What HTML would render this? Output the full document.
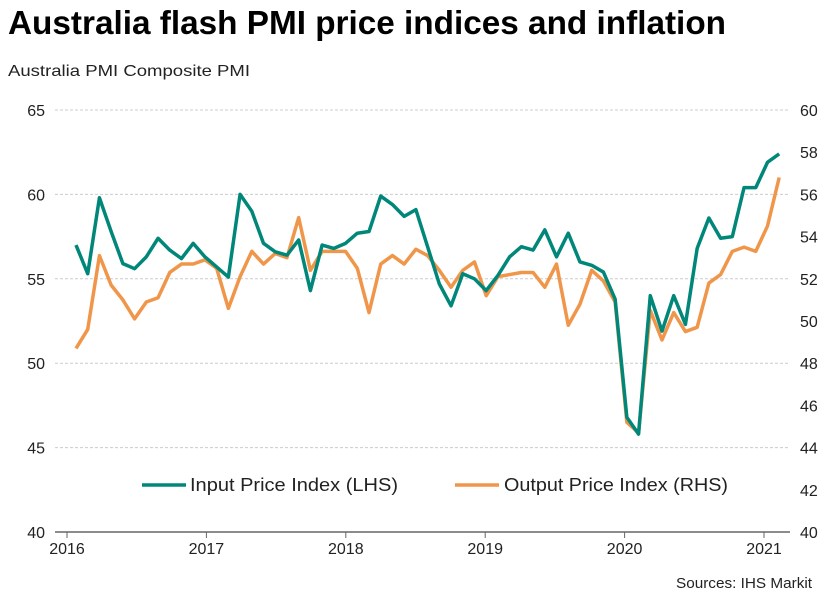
<!DOCTYPE html>
<html><head><meta charset="utf-8"><style>
body{margin:0;background:#fff;font-family:"Liberation Sans",Arial,sans-serif}
svg text{font-family:"Liberation Sans",Arial,sans-serif}
</style></head><body>
<svg id="chart" width="831" height="599" xmlns="http://www.w3.org/2000/svg">
<text x="8" y="34" font-size="33" font-weight="bold" fill="#000" textLength="718" lengthAdjust="spacingAndGlyphs">Australia flash PMI price indices and inflation</text>
<text x="8" y="76" font-size="16" fill="#222" textLength="242" lengthAdjust="spacingAndGlyphs">Australia PMI Composite PMI</text>
<text x="812" y="588" font-size="15" fill="#222" text-anchor="end" textLength="136" lengthAdjust="spacingAndGlyphs">Sources: IHS Markit</text>
<g id="grid"></g><g id="axes"></g><g id="series"></g>
<g>
<line x1="142" y1="485" x2="186" y2="485" stroke="#00877a" stroke-width="3.5"/>
<text x="190" y="491" font-size="18" fill="#222" textLength="208" lengthAdjust="spacingAndGlyphs">Input Price Index (LHS)</text>
<line x1="455" y1="485" x2="499" y2="485" stroke="#f0964a" stroke-width="3.5"/>
<text x="504" y="491" font-size="18" fill="#222" textLength="224" lengthAdjust="spacingAndGlyphs">Output Price Index (RHS)</text>
</g>
</svg>
<script>
const leftTicks=[40,45,50,55,60,65];
const rightTicks=[40,42,44,46,48,50,52,54,56,58,60];
const yearLabels=["2016","2017","2018","2019","2020","2021"];
const inputPrice=[57.0,55.3,59.8,57.8,55.9,55.6,56.3,57.4,56.7,56.2,57.1,
56.3,55.7,55.1,60.0,59.0,57.1,56.6,56.4,57.3,54.3,57.0,56.8,
57.1,57.7,57.8,59.9,59.4,58.7,59.1,56.9,54.7,53.4,55.3,55.0,
54.3,55.2,56.3,56.9,56.7,57.9,56.3,57.7,56.0,55.8,55.4,53.8,
46.8,45.8,54.0,51.9,54.0,52.3,56.8,58.6,57.4,57.5,60.4,60.4,
61.9,62.4];
const outputPrice=[48.7,49.6,53.1,51.7,51.0,50.1,50.9,51.1,52.3,52.7,52.7,
52.9,52.5,50.6,52.1,53.3,52.7,53.2,53.0,54.9,52.4,53.3,53.3,
53.3,52.5,50.4,52.7,53.1,52.7,53.4,53.1,52.4,51.6,52.4,52.8,
51.2,52.1,52.2,52.3,52.3,51.6,52.7,49.8,50.8,52.4,51.9,50.9,
45.2,44.7,50.5,49.1,50.4,49.5,49.7,51.8,52.2,53.3,53.5,53.3,
54.5,56.8];
const NS="http://www.w3.org/2000/svg";
const X0=67,YR=139.4,TOP=110,BOT=532;
const xm=i=>76+i*11.72;
const yl=v=>BOT-(v-40)/25*(BOT-TOP);
const yr=v=>BOT-(v-40)/20*(BOT-TOP);
function mk(t,a,p){const e=document.createElementNS(NS,t);for(const k in a)e.setAttribute(k,a[k]);p.appendChild(e);return e;}
const grid=document.getElementById('grid'),axes=document.getElementById('axes'),ser=document.getElementById('series');
leftTicks.forEach(v=>{
 const l=mk('line',{x1:55,x2:790,y1:yl(v),y2:yl(v),stroke:v===40?'#666':'#ccc','stroke-dasharray':v===40?'':'3,2','stroke-width':v===40?1.5:1},grid);
 
 
 const t=mk('text',{x:45,y:yl(v)+6,'font-size':16,fill:'#222','text-anchor':'end'},axes);t.textContent=v;
 
 
});
rightTicks.forEach(v=>{
 const t=mk('text',{x:800,y:yr(v)+6,'font-size':16,fill:'#222'},axes);t.textContent=v;
 
 
});
yearLabels.forEach((s,i)=>{
 const x=X0+i*YR;
 mk('line',{x1:x,x2:x,y1:BOT,y2:BOT+6,stroke:'#666'},axes);
 const t=mk('text',{x:x,y:BOT+22,'font-size':16,fill:'#222','text-anchor':'middle'},axes);t.textContent=s;
 
 
});
function line(d,yf,c,n){
 const p=mk('polyline',{points:d.map((v,i)=>xm(i)+','+yf(v)).join(' '),fill:'none',stroke:c,'stroke-width':3.5,'stroke-linejoin':'round'},ser);
 
 
}
line(outputPrice,yr,'#f0964a','output-price-line');
line(inputPrice,yl,'#00877a','input-price-line');
</script>
</body></html>
